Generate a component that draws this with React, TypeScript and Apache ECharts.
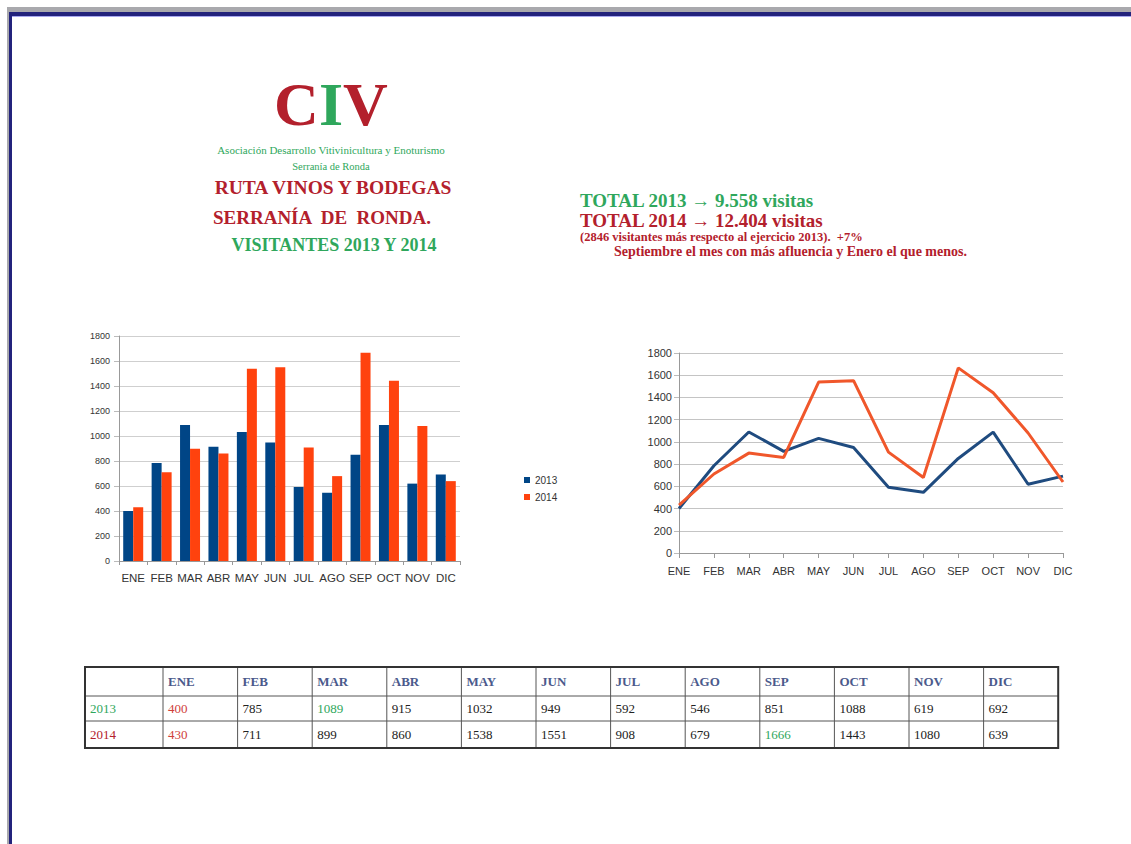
import React, { useEffect, useRef } from "react";
import * as echarts from "echarts";

const months = ["ENE", "FEB", "MAR", "ABR", "MAY", "JUN", "JUL", "AGO", "SEP", "OCT", "NOV", "DIC"];
const years = ["2013", "2014"];
const visits2013 = [400, 785, 1089, 915, 1032, 949, 592, 546, 851, 1088, 619, 692];
const visits2014 = [430, 711, 899, 860, 1538, 1551, 908, 679, 1666, 1443, 1080, 639];
const yMax = 1800;
const yStep = 200;

const RED = "#b3202c";
const GREEN = "#2fa75c";
const BAR_BLUE = "#004586";
const BAR_ORANGE = "#ff420e";
const LINE_BLUE = "#1f4b7f";
const LINE_ORANGE = "#f0572b";
const SERIF = "'Liberation Serif', 'Times New Roman', serif";
const SANS = "'Liberation Sans', Arial, sans-serif";

function buildTable(): any[] {
  const els: any[] = [];
  const left = 85;
  const firstW = 78;
  const colW = 74.6;
  const rowsY = [667, 696, 721, 748];
  const right = left + firstW + colW * months.length;
  const headerColor = "#4b5a8c";
  months.forEach((m, i) => {
    els.push({
      type: "text",
      x: left + firstW + colW * i + 5,
      y: (rowsY[0] + rowsY[1]) / 2,
      style: { text: m, font: `bold 13px ${SERIF}`, fill: headerColor, align: "left", verticalAlign: "middle" },
    });
  });
  const rows = [visits2013, visits2014];
  rows.forEach((vals, r) => {
    const cy = (rowsY[r + 1] + rowsY[r + 2]) / 2;
    els.push({
      type: "text",
      x: left + 5,
      y: cy,
      style: { text: years[r], font: `13px ${SERIF}`, fill: r === 0 ? GREEN : RED, align: "left", verticalAlign: "middle" },
    });
    const mx = Math.max(...vals);
    const mn = Math.min(...vals);
    vals.forEach((v, i) => {
      const col = v === mx ? GREEN : v === mn ? "#d0403a" : "#222";
      els.push({
        type: "text",
        x: left + firstW + colW * i + 5,
        y: cy,
        style: { text: String(v), font: `13px ${SERIF}`, fill: col, align: "left", verticalAlign: "middle" },
      });
    });
  });
  for (let k = 1; k < rowsY.length - 1; k++) {
    els.push({ type: "line", shape: { x1: left, y1: rowsY[k], x2: right, y2: rowsY[k] }, style: { stroke: "#555", lineWidth: 1 } });
  }
  for (let i = 0; i < months.length; i++) {
    const x = left + firstW + colW * i;
    els.push({ type: "line", shape: { x1: x, y1: rowsY[0], x2: x, y2: rowsY[3] }, style: { stroke: "#555", lineWidth: 1 } });
  }
  els.push({
    type: "rect",
    shape: { x: left, y: rowsY[0], width: right - left, height: rowsY[3] - rowsY[0] },
    style: { fill: "none", stroke: "#333", lineWidth: 2 },
  });
  return els;
}

function txt(text: string, x: number, y: number, font: string, fill: string, align = "center") {
  return { type: "text", x, y, style: { text, font, fill, align, verticalAlign: "middle" } };
}

export default function App() {
  const ref = useRef<HTMLDivElement>(null);
  useEffect(() => {
    if (!ref.current) return;
    const chart = echarts.init(ref.current, null, { renderer: "svg" });
    const axisLabel = { fontFamily: SANS, fontSize: 10, color: "#333", formatter: (v: any) => String(v) };
    chart.setOption({
      animation: false,
      backgroundColor: "#ffffff",
      legend: {
        orient: "vertical",
        left: 519,
        top: 470,
        data: years,
        icon: "rect",
        itemWidth: 6,
        itemHeight: 6,
        itemGap: 7,
        textStyle: { fontFamily: SANS, fontSize: 10, color: "#333" },
      },
      grid: [
        { left: 119, top: 336, width: 341, height: 225 },
        { left: 679, top: 353, width: 384, height: 200 },
      ],
      xAxis: [
        {
          type: "category",
          gridIndex: 0,
          data: months,
          axisLine: { lineStyle: { color: "#999" } },
          axisTick: { show: true, length: 4, lineStyle: { color: "#999" } },
          axisLabel: { ...axisLabel, fontSize: 11.5, margin: 11, interval: 0 },
        },
        {
          type: "category",
          gridIndex: 1,
          data: months,
          boundaryGap: false,
          axisLine: { lineStyle: { color: "#999" } },
          axisTick: { show: true, length: 5, lineStyle: { color: "#999" } },
          axisLabel: { ...axisLabel, fontSize: 11, margin: 12, interval: 0 },
        },
      ],
      yAxis: [
        {
          type: "value",
          gridIndex: 0,
          min: 0,
          max: yMax,
          interval: yStep,
          axisLine: { show: true, lineStyle: { color: "#999" } },
          axisTick: { show: true, length: 5, lineStyle: { color: "#bbb" } },
          splitLine: { lineStyle: { color: "#cfcfcf" } },
          axisLabel: { ...axisLabel, fontSize: 9, margin: 9 },
        },
        {
          type: "value",
          gridIndex: 1,
          min: 0,
          max: yMax,
          interval: yStep,
          axisLine: { show: true, lineStyle: { color: "#999" } },
          axisTick: { show: true, length: 5, lineStyle: { color: "#bbb" } },
          splitLine: { lineStyle: { color: "#c4c4c4" } },
          axisLabel: { ...axisLabel, fontSize: 11, margin: 7 },
        },
      ],
      series: [
        {
          name: years[0],
          type: "bar",
          xAxisIndex: 0,
          yAxisIndex: 0,
          data: visits2013,
          barWidth: 10,
          barGap: "0%",
          itemStyle: { color: BAR_BLUE },
        },
        {
          name: years[1],
          type: "bar",
          xAxisIndex: 0,
          yAxisIndex: 0,
          data: visits2014,
          barWidth: 10,
          barGap: "0%",
          itemStyle: { color: BAR_ORANGE },
        },
        {
          name: years[0],
          type: "line",
          xAxisIndex: 1,
          yAxisIndex: 1,
          data: visits2013,
          showSymbol: false,
          lineStyle: { color: LINE_BLUE, width: 3 },
          itemStyle: { color: LINE_BLUE },
        },
        {
          name: years[1],
          type: "line",
          xAxisIndex: 1,
          yAxisIndex: 1,
          data: visits2014,
          showSymbol: false,
          lineStyle: { color: LINE_ORANGE, width: 3 },
          itemStyle: { color: LINE_ORANGE },
        },
      ],
      graphic: [
        { type: "rect", shape: { x: 7, y: 7, width: 1124, height: 5 }, style: { fill: "#a9a9ad" } },
        { type: "rect", shape: { x: 7, y: 7, width: 2, height: 837 }, style: { fill: "#a9a9ad" } },
        { type: "rect", shape: { x: 9, y: 12, width: 1122, height: 4 }, style: { fill: "#23237c" } },
        { type: "rect", shape: { x: 9, y: 12, width: 3, height: 832 }, style: { fill: "#23237c" } },
        { type: "rect", shape: { x: 12, y: 16, width: 1119, height: 1 }, style: { fill: "#a8a8f0" } },
        txt("C", 274, 104, `bold 62px ${SERIF}`, RED, "left"),
        txt("I", 319, 104, `bold 62px ${SERIF}`, GREEN, "left"),
        txt("V", 343, 104, `bold 62px ${SERIF}`, RED, "left"),
        txt("Asociación Desarrollo Vitivinicultura y Enoturismo", 331, 150, `11px ${SERIF}`, GREEN),
        txt("Serranía de Ronda", 331, 166, `10.5px ${SERIF}`, GREEN),
        txt("RUTA VINOS Y BODEGAS", 333, 187, `bold 19.5px ${SERIF}`, RED),
        txt("SERRANÍA  DE  RONDA.", 322, 217, `bold 19px ${SERIF}`, RED),
        txt("VISITANTES 2013 Y 2014", 334, 245, `bold 18px ${SERIF}`, GREEN),
        txt("TOTAL 2013 → 9.558 visitas", 580, 200, `bold 19px ${SERIF}`, GREEN, "left"),
        txt("TOTAL 2014 → 12.404 visitas", 580, 220, `bold 19px ${SERIF}`, RED, "left"),
        txt("(2846 visitantes más respecto al ejercicio 2013).  +7%", 580, 237, `bold 12.5px ${SERIF}`, RED, "left"),
        txt("Septiembre el mes con más afluencia y Enero el que menos.", 614, 251, `bold 14px ${SERIF}`, RED, "left"),
        ...buildTable(),
      ],
    });
    return () => chart.dispose();
  }, []);
  return <div ref={ref} style={{ position: "fixed", left: 0, top: 0, width: 1131, height: 844 }} />;
}
